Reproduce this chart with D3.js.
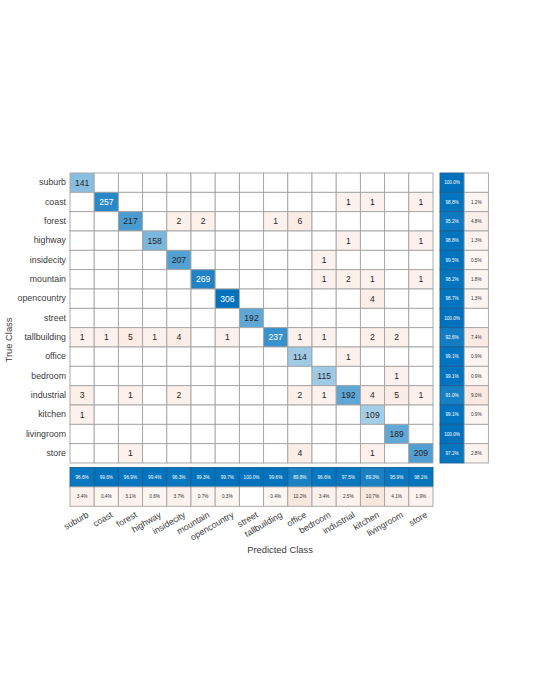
<!DOCTYPE html>
<html><head><meta charset="utf-8">
<script src="https://cdn.jsdelivr.net/npm/d3@7"></script>
<style>
body{margin:0;background:#fff;}
svg{display:block;font-family:"Liberation Sans",Arial,Helvetica,sans-serif;}
</style></head>
<body>
<svg id="chart" width="540" height="700"></svg>
<script>
const classes = ["suburb","coast","forest","highway","insidecity","mountain","opencountry","street","tallbuilding","office","bedroom","industrial","kitchen","livingroom","store"];
// rows = true class, cols = predicted class
const matrix = [
  [141,0,0,0,0,0,0,0,0,0,0,0,0,0,0],
  [0,257,0,0,0,0,0,0,0,0,0,1,1,0,1],
  [0,0,217,0,2,2,0,0,1,6,0,0,0,0,0],
  [0,0,0,158,0,0,0,0,0,0,0,1,0,0,1],
  [0,0,0,0,207,0,0,0,0,0,1,0,0,0,0],
  [0,0,0,0,0,269,0,0,0,0,1,2,1,0,1],
  [0,0,0,0,0,0,306,0,0,0,0,0,4,0,0],
  [0,0,0,0,0,0,0,192,0,0,0,0,0,0,0],
  [1,1,5,1,4,0,1,0,237,1,1,0,2,2,0],
  [0,0,0,0,0,0,0,0,0,114,0,1,0,0,0],
  [0,0,0,0,0,0,0,0,0,0,115,0,0,1,0],
  [3,0,1,0,2,0,0,0,0,2,1,192,4,5,1],
  [1,0,0,0,0,0,0,0,0,0,0,0,109,0,0],
  [0,0,0,0,0,0,0,0,0,0,0,0,0,189,0],
  [0,0,1,0,0,0,0,0,0,4,0,0,1,0,209]
];
const xTitle = "Predicted Class";
const yTitle = "True Class";

const svg = d3.select("#chart");
const x = d3.scaleBand().domain(classes).range([70, 433]);
const y = d3.scaleBand().domain(classes).range([173, 463]);
const xs = d3.scaleBand().domain(["ok","err"]).range([440, 488.4]);
const ys = d3.scaleBand().domain(["ok","err"]).range([467.5, 506.3]);

const blue = "#0072BD", orange = "#D95319";
const maxV = d3.max(matrix.flat());
const blueC = d3.interpolateRgb("#ffffff", blue);
const orC = d3.interpolateRgb("#ffffff", orange);
const grid = "#a3a3a3";
const fmt = v => d3.format(".1f")(v) + "%";

// cells
const cells = [];
matrix.forEach((row, i) => row.forEach((v, j) => cells.push({t: classes[i], p: classes[j], v, diag: i === j})));
const g = svg.append("g");
g.selectAll("rect.cell").data(cells).join("rect")
  .attr("x", d => x(d.p)).attr("y", d => y(d.t))
  .attr("width", x.bandwidth()).attr("height", y.bandwidth())
  .attr("fill", d => d.v === 0 ? "#fff" : d.diag ? blueC(d.v / maxV) : orC(0.075 + 0.04 * d.v / 6))
  .attr("stroke", grid).attr("stroke-width", 0.9);
g.selectAll("text.cell").data(cells.filter(d => d.v > 0)).join("text")
  .attr("x", d => x(d.p) + x.bandwidth() / 2).attr("y", d => y(d.t) + y.bandwidth() / 2)
  .attr("text-anchor", "middle").attr("dominant-baseline", "central")
  .attr("font-size", 8.6)
  .attr("fill", d => d.diag && d.v / maxV > 0.74 ? "#ffffff" : "#262626")
  .text(d => d.v);

// row summary (recall)
const rowSum = matrix.map((row, i) => {
  const tot = d3.sum(row); const ok = row[i] / tot * 100;
  return {c: classes[i], ok, err: 100 - ok};
});
const colSum = classes.map((c, j) => {
  const tot = d3.sum(matrix, r => r[j]); const ok = matrix[j][j] / tot * 100;
  return {c, ok, err: 100 - ok};
});
const sumFs = 4.7;
const rs = svg.append("g");
rowSum.forEach(d => {
  ["ok","err"].forEach(k => {
    const val = d[k];
    const fill = k === "ok" ? blueC(val / 100) : (val < 0.05 ? "#fff" : orC(0.05 + 0.9 * val / 100));
    rs.append("rect").attr("x", xs(k)).attr("y", y(d.c)).attr("width", xs.bandwidth()).attr("height", y.bandwidth())
      .attr("fill", fill).attr("stroke", k === "ok" ? "#1a5f94" : grid).attr("stroke-width", 0.9);
    if (val > 0.05) rs.append("text").attr("x", xs(k) + xs.bandwidth() / 2).attr("y", y(d.c) + y.bandwidth() / 2)
      .attr("text-anchor", "middle").attr("dominant-baseline", "central").attr("font-size", sumFs)
      .attr("fill", k === "ok" ? "#fff" : "#333").text(fmt(val));
  });
});
colSum.forEach(d => {
  ["ok","err"].forEach(k => {
    const val = d[k];
    const fill = k === "ok" ? blueC(val / 100) : (val < 0.05 ? "#fff" : orC(0.05 + 0.9 * val / 100));
    rs.append("rect").attr("x", x(d.c)).attr("y", ys(k)).attr("width", x.bandwidth()).attr("height", ys.bandwidth())
      .attr("fill", fill).attr("stroke", k === "ok" ? "#1a5f94" : grid).attr("stroke-width", 0.9);
    if (val > 0.05) rs.append("text").attr("x", x(d.c) + x.bandwidth() / 2).attr("y", ys(k) + ys.bandwidth() / 2)
      .attr("text-anchor", "middle").attr("dominant-baseline", "central").attr("font-size", sumFs)
      .attr("fill", k === "ok" ? "#fff" : "#333").text(fmt(val));
  });
});

// axes
const yAxis = svg.append("g").attr("transform", "translate(70,0)")
  .call(d3.axisLeft(y).tickSize(0).tickPadding(4));
yAxis.select(".domain").remove();
yAxis.selectAll("text").attr("font-size", 8.8).attr("fill", "#3a3a3a").attr("font-family", "Liberation Sans, Arial, sans-serif");

const xAxis = svg.append("g").attr("transform", "translate(0,510)")
  .call(d3.axisBottom(x).tickSize(0).tickPadding(0));
xAxis.select(".domain").remove();
xAxis.selectAll("text")
  .attr("font-size", 8.8).attr("fill", "#3a3a3a").attr("font-family", "Liberation Sans, Arial, sans-serif")
  .attr("text-anchor", "end").attr("dy", "0.72em").attr("y", 0).attr("x", 0)
  .attr("transform", "translate(4,1) rotate(-30)");

svg.append("text").attr("x", 280).attr("y", 553).attr("text-anchor", "middle")
  .attr("font-size", 9.4).attr("fill", "#3a3a3a").text(xTitle);
svg.append("text").attr("transform", "translate(12,340) rotate(-90)").attr("text-anchor", "middle")
  .attr("font-size", 9.4).attr("fill", "#3a3a3a").text(yTitle);
</script>
</body></html>
